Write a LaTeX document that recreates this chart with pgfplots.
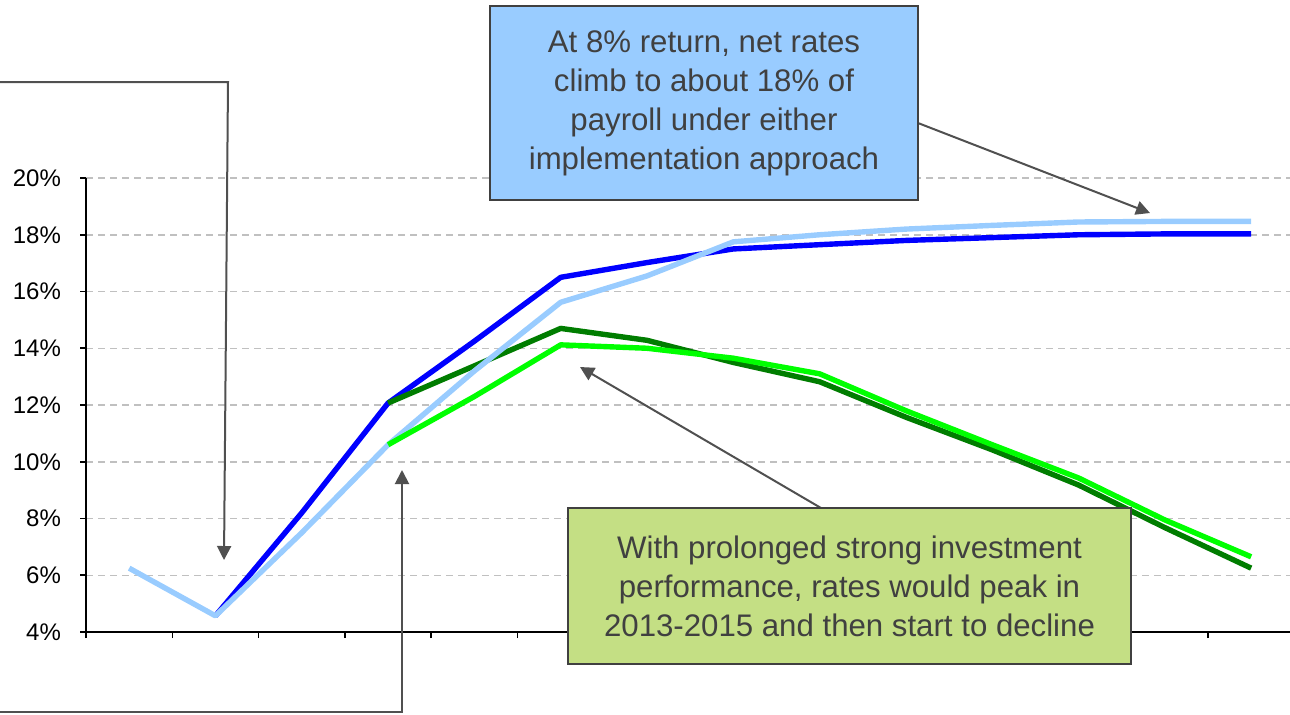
\documentclass[border=0pt]{standalone}
\usepackage{fontspec}
\setmainfont{Liberation Sans}
\usepackage{pgfplots}
\pgfplotsset{compat=1.18}
\usetikzlibrary{arrows.meta}
\definecolor{sblue}{RGB}{0,0,255}
\definecolor{slblue}{RGB}{153,204,255}
\definecolor{sdgreen}{RGB}{0,125,0}
\definecolor{slgreen}{RGB}{0,255,0}
\definecolor{boxblue}{RGB}{153,204,255}
\definecolor{boxgreen}{RGB}{196,223,132}
\definecolor{txtgray}{RGB}{64,64,64}
\definecolor{arrgray}{RGB}{80,80,80}
\definecolor{gridgray}{RGB}{192,192,192}

\begin{document}
\begin{tikzpicture}[x=0.5pt,y=-0.5pt]
\useasboundingbox (0,0) rectangle (1290,714);
\begin{axis}[
    at={(43pt,-316pt)}, anchor=south west,
    scale only axis, width=602pt, height=227pt,
    xmin=-0.5, xmax=13.45, ymin=4, ymax=20,
    axis lines=left, axis line style={-, line width=1pt, black},
    xtick={-0.5,0.5,...,12.5}, xticklabels={},
    ytick={4,6,...,20},
    yticklabels={4\%,6\%,8\%,10\%,12\%,14\%,16\%,18\%,20\%},
    tick align=outside, major tick length=3pt,
    tick style={black, line width=0.8pt},
    ticklabel style={font=\fontsize{12}{12}\selectfont, text=black},
    yticklabel style={xshift=-6pt},
    ymajorgrids, grid style={gridgray, line width=0.75pt, dash pattern=on 3.3pt off 2.7pt},
    every axis plot/.append style={no markers, line width=2.7pt, line join=round},
]
\addplot[sblue] coordinates {
    (1,4.57) (2,8.2) (3,12.07) (4,14.25) (5,16.5) (6,17.02) (7,17.5)
    (8,17.65) (9,17.8) (10,17.9) (11,18.0) (12,18.03) (13,18.03)
};
\addplot[sdgreen] coordinates {
    (3,12.07) (4,13.38) (5,14.7) (6,14.28) (7,13.5) (8,12.82) (9,11.57)
    (10,10.42) (11,9.18) (12,7.68) (13,6.25)
};
\addplot[slblue] coordinates {
    (0,6.25) (1,4.57) (2,7.5) (3,10.6) (4,13.2) (5,15.62) (6,16.55)
    (7,17.75) (8,18.0) (9,18.2) (10,18.33) (11,18.45) (12,18.47) (13,18.47)
};
\addplot[slgreen] coordinates {
    (3,10.6) (4,12.3) (5,14.12) (6,14.0) (7,13.65) (8,13.1) (9,11.8)
    (10,10.6) (11,9.43) (12,7.95) (13,6.65)
};
\end{axis}

% callouts
\tikzset{callout/.style={arrgray, line width=1pt, -{Triangle[length=7pt,width=7pt]}}}
\draw[callout] (0,82) -- (228,82) -- (224,560);
\draw[callout] (0,712) -- (402,712) -- (402,470);
\draw[callout] (918,123) -- (1150,213);
\draw[callout] (821,508) -- (580,367);

\draw[txtgray, line width=1pt, fill=boxblue] (490,6) rectangle (918,200);
\node[text=txtgray, align=center, font=\fontsize{15.6}{19.5}\selectfont]
    at (704,103) {At 8\% return, net rates\\climb to about 18\% of\\payroll under either\\implementation approach};

\draw[txtgray, line width=1pt, fill=boxgreen] (568,508) rectangle (1131,664);
\node[text=txtgray, align=center, font=\fontsize{15.6}{19.5}\selectfont]
    at (849.5,586) {With prolonged strong investment\\performance, rates would peak in\\2013-2015 and then start to decline};
\end{tikzpicture}
\end{document}
